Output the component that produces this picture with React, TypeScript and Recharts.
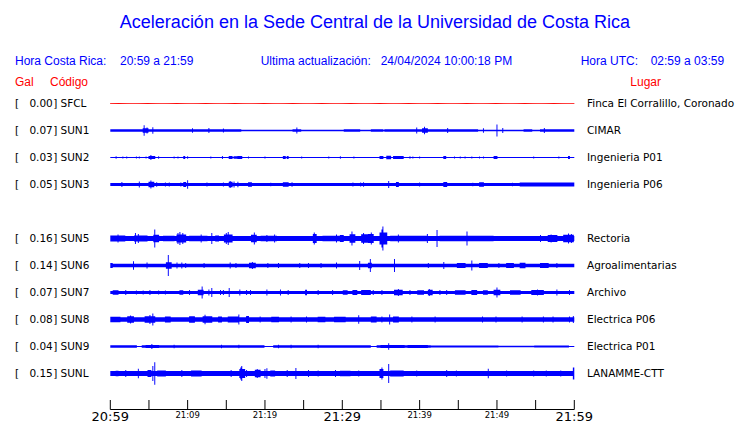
import React from 'react';
import { ComposedChart, Area, Line, XAxis, YAxis } from 'recharts';

type Seg = [number, number];
type Burst = [number, number, number];

// ---- stations ----
const codes = ['SFCL', 'SUN1', 'SUN2', 'SUN3', 'SUN5', 'SUN6', 'SUN7', 'SUN8', 'SUN9', 'SUNL'];
const gals = [0.0, 0.07, 0.03, 0.05, 0.16, 0.14, 0.07, 0.08, 0.04, 0.15];
const places = [
  'Finca El Corralillo, Coronado',
  'CIMAR',
  'Ingenieria P01',
  'Ingenieria P06',
  'Rectoria',
  'Agroalimentarias',
  'Archivo',
  'Electrica P06',
  'Electrica P01',
  'LANAMME-CTT',
];
// display slot of each station (slot 4 = SUN4, no data)
const slots = [0, 1, 2, 3, 5, 6, 7, 8, 9, 10];

// ---- time axis (minutes after 20:59) ----
const tickMinutes = [0, 5, 10, 15, 20, 25, 30, 35, 40, 45, 50, 55, 60];
const tickLabels = ['20:59', '', '21:09', '', '21:19', '', '21:29', '', '21:39', '', '21:49', '', '21:59'];
const majorLabels = ['20:59', '21:29', '21:59'];

// ---- trace envelopes: base level [fromMinute, halfAmplitude], bursts [start, end, halfAmplitude] ----
const sfclBase: Seg[] = [[0, 0]];
const sfclBursts: Burst[] = [];

const sun1Base: Seg[] = [[0, 1.3], [17, 0.8], [35.5, 1.3], [47.6, 0.8], [55.6, 1.3]];
const sun1Bursts: Burst[] = [
  [4.2, 4.9, 2.3], [4.4, 4.4, 5.3], [4.7, 4.7, 3], [5.5, 5.5, 3.3], [10.6, 10.6, 2.3], [12.7, 12.7, 2.5],
  [14.6, 14.6, 2], [23.6, 24.6, 1.3], [24.1, 24.1, 3], [30.3, 32.3, 1.2], [33.8, 35.3, 1.2], [39.6, 39.6, 3],
  [40.4, 41.0, 2.2], [40.6, 40.6, 3.7], [43.6, 43.6, 2.5], [48.3, 48.3, 2.2], [50.0, 50.0, 6], [50.7, 50.7, 2.5],
  [53.5, 54.5, 1.2], [56.1, 56.1, 2.5],
];

const sun2Base: Seg[] = [[0, 0.5]];
const sun2Bursts: Burst[] = [
  [0.8, 0.8, 1.3], [1.6, 1.6, 1], [2.1, 2.1, 1], [3.4, 3.4, 1], [3.8, 3.8, 1], [4.6, 4.6, 1], [5.0, 5.7, 1.6],
  [5.3, 5.3, 2.5], [6.2, 6.2, 1.3], [8.2, 8.2, 1], [8.7, 8.7, 1], [9.5, 9.6, 1.5], [10.0, 10.0, 1.2],
  [13.0, 13.0, 1], [14.5, 14.5, 1.5], [15.4, 15.7, 1.5], [16.0, 16.4, 1.2], [16.5, 17.0, 1.5], [17.9, 17.9, 1],
  [20.0, 20.0, 1], [22.4, 22.6, 1.5], [22.9, 23.0, 1.5], [24.8, 24.8, 1], [28.3, 28.3, 1], [29.7, 29.7, 1.2],
  [31.5, 31.5, 1], [34.9, 35.3, 1.5], [35.7, 36.2, 1.8], [36.6, 37.9, 1.5], [38.8, 38.8, 1.3], [39.1, 39.1, 1],
  [40.0, 40.0, 1], [43.1, 43.4, 1.5], [44.5, 44.5, 1], [45.3, 45.3, 1], [45.9, 45.9, 1], [46.7, 46.7, 1],
  [47.8, 47.8, 1], [48.3, 48.3, 1], [49.6, 50.0, 1.5], [54.8, 54.8, 1], [58.0, 58.0, 1], [59.3, 59.4, 1.5],
];

const sun3Base: Seg[] = [[0, 1.6], [53, 1.9]];
const sun3Bursts: Burst[] = [
  [1.5, 1.5, 2.5], [3.75, 3.75, 3], [5.0, 5.6, 2.8], [5.3, 5.3, 4], [6.0, 6.0, 2.3], [7.1, 7.1, 2],
  [7.6, 7.6, 2], [9.1, 9.1, 2], [9.5, 9.8, 2.5], [10.0, 10.0, 4.3], [12.5, 12.5, 2], [14.6, 14.6, 2],
  [15.4, 15.7, 2.8], [15.5, 15.5, 3.5], [16.0, 16.0, 3], [16.5, 16.5, 2.7], [17.9, 18.3, 2.2], [20.7, 20.7, 1.8],
  [22.4, 23.0, 2.2], [23.5, 23.5, 2.2], [31.4, 31.4, 2], [32.4, 32.4, 2], [32.8, 32.8, 2.3], [36.0, 36.0, 3.5],
  [37.0, 37.3, 2.6], [40.0, 40.0, 2], [43.1, 43.5, 2.5], [46.9, 46.9, 1.8], [47.8, 48.3, 2.2], [52.0, 52.0, 1.8],
];

const sun5Base: Seg[] = [[0, 2.4]];
const sun5Bursts: Burst[] = [
  [0, 1.9, 2.9], [1.0, 1.0, 4], [3.1, 4.7, 3.1], [3.2, 3.2, 5.5], [3.6, 3.6, 4.5], [5.6, 6.2, 3.8], [5.8, 5.8, 9],
  [6.9, 8.2, 2.8], [8.6, 9.7, 4], [8.8, 8.8, 5.5], [9.0, 9.0, 6.5], [9.4, 9.4, 5.5], [10.3, 12.5, 2.8],
  [11.8, 11.8, 4], [13.1, 13.1, 5.5], [13.6, 14.0, 2.9], [14.8, 15.7, 4], [15.0, 15.0, 5.5], [15.2, 15.2, 6.5],
  [18.3, 18.9, 3.8], [18.6, 18.6, 6], [19.5, 21.5, 2.8], [20.2, 20.2, 3.5], [21.3, 21.3, 4], [26.3, 26.6, 4.5],
  [26.4, 26.4, 6], [27.5, 30.1, 2.8], [29.3, 29.3, 4], [29.7, 30.1, 3.6], [31.0, 31.6, 4.2], [31.3, 31.3, 7],
  [32.5, 33.2, 4.2], [32.8, 32.8, 5.5], [33.4, 34.0, 4.5], [33.7, 33.7, 6], [34.9, 35.7, 6], [35.3, 35.3, 12],
  [35.1, 35.1, 9], [36.2, 41.0, 2.8], [37.2, 37.2, 4], [41.0, 41.0, 4.5], [42.2, 42.2, 8.5], [42.6, 46.0, 2.8],
  [46.1, 46.1, 7], [46.3, 49.5, 2.8], [55.6, 55.6, 3.5], [56.6, 57.7, 3.4], [57.0, 57.0, 4], [58.6, 59.9, 3.8],
  [59.3, 59.3, 5], [59.6, 59.6, 4.5],
];

const sun6Base: Seg[] = [[0, 1.8]];
const sun6Bursts: Burst[] = [
  [0, 0.2, 2.5], [3.0, 3.0, 4.3], [4.7, 4.7, 3], [7.3, 7.9, 3.2], [7.5, 7.5, 10.5], [8.6, 8.6, 3], [9.2, 9.2, 3],
  [9.8, 9.8, 2.5], [12.1, 12.1, 2.5], [15.5, 15.5, 3], [16.3, 16.3, 2.5], [18.0, 18.7, 2.8], [18.4, 18.4, 3.5],
  [20.4, 20.4, 2.5], [21.7, 21.7, 2.5], [24.5, 24.5, 2.5], [25.6, 25.6, 2.5], [27.3, 27.3, 2.5], [29.3, 29.3, 3],
  [32.2, 32.2, 4.5], [33.4, 33.8, 2.8], [33.6, 33.6, 6.5], [36.7, 36.7, 6.5], [41.1, 41.1, 2.5], [43.1, 43.1, 3.5],
  [44.9, 45.9, 2.6], [46.7, 46.7, 5], [47.8, 48.7, 2.4], [50.2, 50.2, 2.5], [51.3, 52.1, 2.4], [53.0, 53.6, 2.7],
  [55.6, 56.6, 2.4], [57.7, 57.7, 2.5],
];

const sun7Base: Seg[] = [[0, 1.6]];
const sun7Bursts: Burst[] = [
  [0.4, 1.0, 2.3], [2.0, 2.0, 2.5], [3.4, 3.4, 2], [4.3, 4.3, 2], [5.1, 5.1, 2.5], [6.2, 6.2, 2], [7.1, 7.1, 2],
  [9.0, 9.4, 2.3], [10.3, 10.3, 2.5], [11.4, 12.0, 2.8], [11.9, 11.9, 6], [12.7, 12.7, 3], [13.1, 13.1, 4.5],
  [14.2, 14.2, 2.5], [14.6, 14.6, 2.5], [15.4, 15.4, 4.5], [16.8, 16.8, 3], [17.6, 17.6, 2.5], [18.1, 18.1, 2.5],
  [20.2, 20.2, 3], [22.0, 22.0, 3], [23.0, 23.0, 2.5], [25.2, 25.4, 2.8], [26.9, 26.9, 2.5], [28.8, 28.8, 2.5],
  [30.1, 30.6, 2.3], [31.4, 31.9, 2.6], [32.5, 33.6, 2.4], [34.0, 34.0, 2.5], [35.1, 35.1, 2.5], [36.8, 37.7, 2.8],
  [37.2, 37.2, 3.5], [38.8, 38.8, 2.5], [39.8, 40.5, 2.3], [41.1, 41.6, 2.8], [41.3, 41.3, 3.5], [42.6, 42.6, 2.5],
  [43.5, 43.5, 2.5], [44.6, 45.9, 2.2], [46.7, 47.4, 2.6], [48.2, 48.7, 2.3], [49.6, 50.4, 2.8], [50.0, 50.0, 5],
  [51.7, 53.0, 2.2], [54.5, 56.0, 2.5], [55.3, 55.3, 3], [57.7, 57.7, 3], [59.4, 59.4, 2.5],
];

const sun8Base: Seg[] = [[0, 2.3]];
const sun8Bursts: Burst[] = [
  [0, 1.3, 2.8], [2.3, 3.0, 3.3], [2.6, 2.6, 4], [4.5, 5.8, 3.3], [5.5, 5.5, 6], [5.1, 5.1, 4.5], [7.1, 7.7, 2.9],
  [10.3, 10.9, 3.2], [12.0, 13.1, 3.2], [12.2, 12.2, 4.8], [14.0, 14.4, 2.9], [15.3, 16.6, 3.1], [16.6, 16.6, 5],
  [17.6, 17.9, 3.5], [19.4, 19.4, 3], [20.9, 21.7, 2.7], [23.4, 23.4, 3], [25.4, 25.4, 3], [26.9, 27.8, 2.8],
  [29.0, 30.4, 2.8], [32.1, 32.1, 4.2], [33.8, 34.4, 2.9], [35.1, 35.1, 3], [36.1, 36.1, 5], [36.6, 37.3, 2.9],
  [39.0, 39.0, 3], [42.0, 42.0, 3], [48.1, 48.1, 3], [49.9, 49.9, 3], [53.2, 53.2, 3], [56.0, 56.0, 3],
  [57.3, 57.3, 3], [59.4, 59.4, 3], [59.9, 59.9, 3.5],
];

const sun9Base: Seg[] = [
  [0, 1.2], [3.4, 0.5], [4.1, 1.2], [20.0, 0.5], [21.1, 1.2], [33.7, 0.5], [34.4, 1.3], [41.4, 1.1],
  [50.2, 0.8], [54.8, 1.1], [59.3, 0.6],
];
const sun9Bursts: Burst[] = [
  [4.6, 6.3, 1.5], [5.4, 5.4, 2.6], [8.2, 8.2, 1.8], [14.4, 14.4, 1.8], [16.6, 16.6, 1.8], [21.7, 21.7, 1.8],
  [23.4, 23.4, 1.8], [26.9, 26.9, 1.8], [35.0, 38.0, 1.45], [36.0, 36.0, 3.2], [38.5, 41.0, 1.45],
];

const sunLBase: Seg[] = [[0, 2.5]];
const sunLBursts: Burst[] = [
  [0.8, 1.0, 2.8], [2.0, 2.0, 3.5], [3.6, 3.6, 4.8], [4.9, 5.3, 3.4], [5.5, 5.5, 7.5], [5.8, 5.8, 11.3],
  [6.1, 7.1, 3.1], [9.2, 9.2, 3.5], [10.5, 11.8, 2.9], [15.6, 15.6, 3.5], [16.8, 17.4, 4.5], [17.0, 17.0, 7.5],
  [16.9, 16.9, 6], [17.6, 17.6, 3.5], [18.7, 19.4, 3.8], [19.0, 19.0, 4.5], [20.0, 20.0, 4.5], [20.3, 20.3, 5.2],
  [20.8, 21.3, 2.9], [22.9, 22.9, 3.5], [24.0, 24.0, 5.5], [25.6, 25.6, 3.5], [26.9, 26.9, 3], [29.1, 29.1, 3.5],
  [29.7, 31.0, 2.8], [32.1, 32.1, 3], [34.9, 35.3, 4.5], [35.1, 35.1, 6], [36.0, 36.0, 9.5], [36.2, 37.9, 3.1],
  [39.6, 39.6, 3], [43.5, 43.5, 3.5], [44.8, 44.8, 3], [48.9, 48.9, 4.8], [51.3, 51.3, 3], [54.7, 54.7, 3],
  [56.4, 56.4, 3], [58.2, 58.2, 3], [59.9, 60, 6],
];

const bases: Seg[][] = [sfclBase, sun1Base, sun2Base, sun3Base, sun5Base, sun6Base, sun7Base, sun8Base, sun9Base, sunLBase];
const burstLists: Burst[][] = [
  sfclBursts, sun1Bursts, sun2Bursts, sun3Bursts, sun5Bursts, sun6Bursts, sun7Bursts, sun8Bursts, sun9Bursts, sunLBursts,
];
const traceColors = ['#ff0000', '#0000ff', '#0000ff', '#0000ff', '#0000ff', '#0000ff', '#0000ff', '#0000ff', '#0000ff', '#0000ff'];

const STEP = 0.125;
const SPAN = 60;
const ROW_GAP = 27;

function amplitude(t: number, base: Seg[], bursts: Burst[]): number {
  let a = 0;
  for (const [s, h] of base) if (t >= s - 1e-9) a = h;
  for (const [s, e, h] of bursts) {
    if (t >= s - STEP / 2 && t < e + STEP / 2 && h > a) a = h;
  }
  return a;
}

const data = Array.from({ length: SPAN / STEP + 1 }, (_, i) => {
  const t = i * STEP;
  const row: Record<string, any> = { t };
  codes.forEach((code, k) => {
    const c = slots[k] * ROW_GAP;
    const a = amplitude(t, bases[k], burstLists[k]);
    row[code] = k === 0 ? c : [c - a, c + a];
  });
  return row;
});

const RowTick = (props: any) => {
  const { y, payload } = props;
  const slot = Math.round(payload.value / ROW_GAP);
  const i = slots.indexOf(slot);
  if (i < 0) return null;
  const by = y + 3.9;
  return (
    <g fontFamily="'DejaVu Sans'" fontSize={10.5} fill="#000">
      <text x={15} y={by}>[</text>
      <text x={52.8} y={by} textAnchor="end">{gals[i].toFixed(2)}</text>
      <text x={53.3} y={by}>]</text>
      <text x={60.5} y={by}>{codes[i]}</text>
      <text x={587} y={by}>{places[i]}</text>
    </g>
  );
};

const TimeTick = (props: any) => {
  const { x, y, payload } = props;
  const i = tickMinutes.indexOf(payload.value);
  const label = i >= 0 ? tickLabels[i] : '';
  const big = majorLabels.includes(label);
  return (
    <g>
      <line x1={x} x2={x} y1={y} y2={y - 9.5} stroke="#000" strokeWidth={1} />
      {label ? (
        <text
          x={x}
          y={big ? y + 11.5 : y + 8.5}
          textAnchor="middle"
          fontFamily="'DejaVu Sans'"
          fontSize={big ? 13 : 8.5}
          fill="#000"
        >
          {label}
        </text>
      ) : null}
    </g>
  );
};

const blue = '#0000ff';
const red = '#ff0000';

export default function App() {
  return (
    <div style={{ position: 'absolute', left: 0, top: 0, width: 740, height: 423, background: '#fff' }}>
      <ComposedChart
        width={740}
        height={423}
        data={data}
        margin={{ top: 90, right: 165.7, bottom: 0, left: 0 }}
      >
        <XAxis
          dataKey="t"
          type="number"
          domain={[0, SPAN]}
          ticks={tickMinutes}
          interval={0}
          height={13.5}
          tickSize={0}
          tickMargin={0}
          tickLine={false}
          axisLine={{ stroke: '#000', strokeWidth: 1 }}
          tick={<TimeTick />}
        />
        <YAxis
          type="number"
          domain={[-13.5, 306]}
          reversed
          width={110.3}
          ticks={slots.map((s) => s * ROW_GAP)}
          interval={0}
          tickLine={false}
          axisLine={false}
          tick={<RowTick />}
          allowDataOverflow
        />
        {codes.map((code, k) =>
          k === 0 ? (
            <Line
              key={code}
              dataKey={code}
              type="linear"
              stroke={traceColors[k]}
              strokeWidth={1}
              dot={false}
              activeDot={false}
              isAnimationActive={false}
            />
          ) : (
            <Area
              key={code}
              dataKey={code}
              type="step"
              stroke="none"
              fill={traceColors[k]}
              fillOpacity={1}
              dot={false}
              activeDot={false}
              isAnimationActive={false}
            />
          )
        )}
      </ComposedChart>
      <svg
        width={740}
        height={423}
        style={{ position: 'absolute', left: 0, top: 0, pointerEvents: 'none' }}
      >
        <g fontFamily="'Liberation Sans', Arial, sans-serif">
          <text x={375} y={28} textAnchor="middle" fontSize={18} fill={blue}>
            Aceleración en la Sede Central de la Universidad de Costa Rica
          </text>
          <g fontSize={12} fill={blue}>
            <text x={15} y={65}>Hora Costa Rica:</text>
            <text x={120} y={65}>20:59 a 21:59</text>
            <text x={260.7} y={65}>Ultima actualización:</text>
            <text x={380.7} y={65}>24/04/2024 10:00:18 PM</text>
            <text x={580.7} y={65}>Hora UTC:</text>
            <text x={650.7} y={65}>02:59 a 03:59</text>
          </g>
          <g fontSize={12} fill={red}>
            <text x={15} y={85.5}>Gal</text>
            <text x={50} y={85.5}>Código</text>
            <text x={630.3} y={85.5}>Lugar</text>
          </g>
        </g>
      </svg>
    </div>
  );
}
